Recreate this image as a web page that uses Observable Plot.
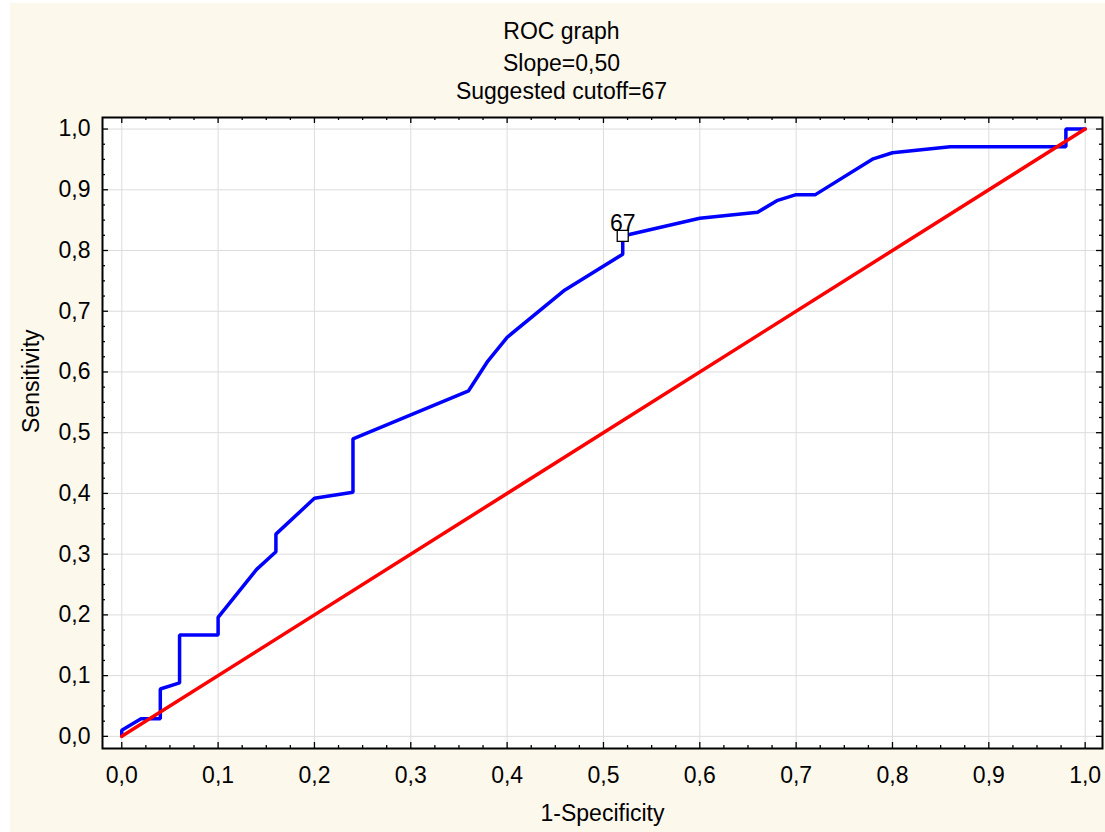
<!DOCTYPE html>
<html>
<head>
<meta charset="utf-8">
<script src="https://cdn.jsdelivr.net/npm/d3@7"></script>
<script src="https://cdn.jsdelivr.net/npm/@observablehq/plot@0.6"></script>
<style>
  html, body { margin: 0; padding: 0; background: #ffffff; }
  #wrap { position: absolute; left: 10px; top: 3px; width: 1095px; height: 829px; background: #fdf8ec;
          font-family: 'Liberation Sans', Arial, sans-serif; color: #000; }
  #title { height: 100px; position: relative; }
  #title div { position: absolute; left: 8px; right: 0; text-align: center; font-size: 23px; line-height: 23px; white-space: nowrap; }
  #chart svg { display: block; }
</style>
</head>
<body>
<div id="wrap">
  <div id="title"></div>
  <div id="chart"></div>
</div>
<script>
// ---- data ----
const titleLines = ["ROC graph", "Slope=0,50", "Suggested cutoff=67"];
const xLabel = "1-Specificity";
const yLabel = "Sensitivity";
const fpr = [0, 0, 0.02, 0.04, 0.04, 0.06, 0.06, 0.10, 0.10, 0.14, 0.16, 0.16, 0.20, 0.24, 0.24, 0.36, 0.38, 0.40, 0.46, 0.52, 0.52, 0.60, 0.66, 0.68, 0.70, 0.72, 0.78, 0.80, 0.86, 0.98, 0.98, 1.00];
const tpr = [0, 0.010, 0.029, 0.029, 0.078, 0.088, 0.167, 0.167, 0.196, 0.275, 0.304, 0.333, 0.392, 0.402, 0.490, 0.569, 0.618, 0.657, 0.735, 0.794, 0.824, 0.853, 0.863, 0.882, 0.892, 0.892, 0.951, 0.961, 0.971, 0.971, 1.0, 1.0];
const diagX = [0, 1];
const diagY = [0, 1];
const cutoffX = [0.52];
const cutoffY = [0.824];
const cutoffLabel = ["67"];
const majorTicks = [0, 0.1, 0.2, 0.3, 0.4, 0.5, 0.6, 0.7, 0.8, 0.9, 1.0];
const minorTicks = [0.025, 0.05, 0.075, 0.125, 0.15, 0.175, 0.225, 0.25, 0.275, 0.325, 0.35, 0.375, 0.425, 0.45, 0.475, 0.525, 0.55, 0.575, 0.625, 0.65, 0.675, 0.725, 0.75, 0.775, 0.825, 0.85, 0.875, 0.925, 0.95, 0.975];

// ---- title ----
const tops = [17, 49, 77];
const tdiv = document.getElementById("title");
titleLines.forEach((t, i) => {
  const d = document.createElement("div");
  d.textContent = t;
  d.style.top = tops[i] + "px";
  tdiv.appendChild(d);
});

// ---- chart ----
const roc = fpr.map((x, i) => ({x, y: tpr[i]}));
const diag = diagX.map((x, i) => ({x, y: diagY[i]}));
const cutoff = cutoffX.map((x, i) => ({x, y: cutoffY[i], label: cutoffLabel[i]}));

const W = 1095, H = 729, mL = 92, mR = 3, mT = 14, mB = 84;
const fw = W - mL - mR, fh = H - mT - mB;
const fmt = d => d.toFixed(1).replace(".", ",");
const font = "'Liberation Sans', Arial, sans-serif";
const fs = 23;
const tickStyle = {stroke: "black", strokeWidth: 1.3};

const chart = Plot.plot({
  width: W, height: H,
  marginLeft: mL, marginRight: mR, marginTop: mT, marginBottom: mB,
  style: {background: "transparent", fontFamily: font, fontSize: fs + "px", color: "black"},
  x: {domain: [-0.02, 1.018]},
  y: {domain: [-0.02, 1.019]},
  marks: [
    Plot.frame({fill: "white"}),
    Plot.gridX({ticks: majorTicks, stroke: "#dcdcdc", strokeOpacity: 1, strokeWidth: 1}),
    Plot.gridY({ticks: majorTicks, stroke: "#dcdcdc", strokeOpacity: 1, strokeWidth: 1}),
    Plot.line(roc, {x: "x", y: "y", stroke: "#0000ff", strokeWidth: 3.5, strokeLinejoin: "miter"}),
    Plot.line(diag, {x: "x", y: "y", stroke: "#ff0000", strokeWidth: 3.5}),
    Plot.dot(cutoff, {x: "x", y: "y", symbol: "square", r: 6.2, fill: "white", stroke: "black", strokeWidth: 1.3}),
    Plot.text(cutoff, {x: "x", y: "y", text: "label", lineAnchor: "bottom", dy: -5, fontSize: fs, fill: "black"}),
    // inward ticks on four sides
    Plot.ruleX(majorTicks, {...tickStyle, insetTop: fh - 6}),
    Plot.ruleX(minorTicks, {...tickStyle, insetTop: fh - 3}),
    Plot.ruleX(majorTicks, {...tickStyle, insetBottom: fh - 6}),
    Plot.ruleX(minorTicks, {...tickStyle, insetBottom: fh - 3}),
    Plot.ruleY(majorTicks, {...tickStyle, insetRight: fw - 6}),
    Plot.ruleY(minorTicks, {...tickStyle, insetRight: fw - 3}),
    Plot.ruleY(majorTicks, {...tickStyle, insetLeft: fw - 6}),
    Plot.ruleY(minorTicks, {...tickStyle, insetLeft: fw - 3}),
    Plot.axisX({ticks: majorTicks, tickSize: 0, tickPadding: 18, tickFormat: fmt, label: null, fontSize: fs}),
    Plot.axisY({ticks: majorTicks, tickSize: 0, tickPadding: 12, tickFormat: fmt, label: null, fontSize: fs}),
    Plot.text([xLabel], {text: d => d, frameAnchor: "bottom", dy: 72, lineAnchor: "bottom", fontSize: fs}),
    Plot.text([yLabel], {text: d => d, frameAnchor: "left", dx: -64, rotate: -90, lineAnchor: "bottom", fontSize: fs}),
    Plot.frame({stroke: "black", strokeWidth: 2})
  ]
});
document.getElementById("chart").appendChild(chart);
</script>
</body>
</html>
